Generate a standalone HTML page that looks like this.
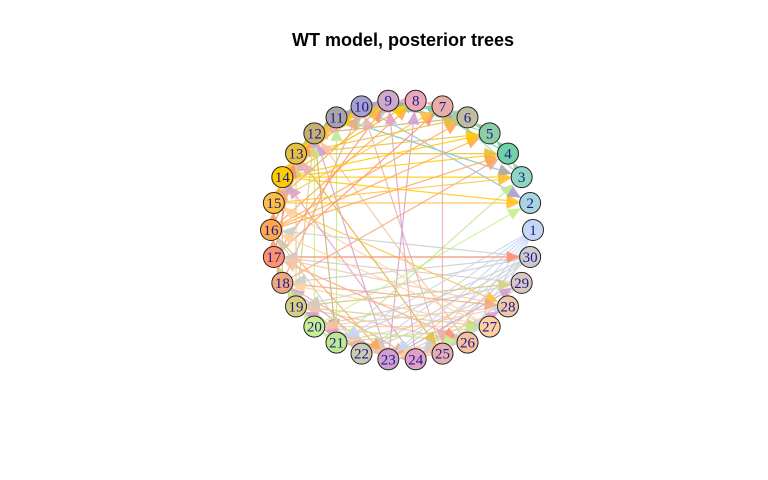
<!DOCTYPE html>
<html><head><meta charset="utf-8"><style>
body{margin:0;background:#fff;width:768px;height:480px;overflow:hidden}
svg{display:block}
</style></head><body>
<svg id="chart" width="768" height="480">
<text x="403" y="46" text-anchor="middle" font-family="Liberation Sans, sans-serif" font-weight="bold" font-size="18">WT model, posterior trees</text>
<g id="edges"></g>
<g id="arrows"></g>
<g id="nodes"></g>
</svg>
<script>
const nodeLabels=["1","2","3","4","5","6","7","8","9","10","11","12","13","14","15","16","17","18","19","20","21","22","23","24","25","26","27","28","29","30"];
const nodeColors=["#c6d7f5","#a8d5e0","#8fd6c2","#6fd1a6","#8ccfa6","#c0bca0","#e8aeaa","#eca8b8","#d0a8c8","#a8a0cc","#a8a4aa","#c8b070","#e8c040","#ffcc00","#ffc040","#ffa850","#ff9070","#f0a880","#d8d080","#c8f090","#c0e890","#cccbb0","#d0a0d0","#e0a0c8","#e8b0b0","#f8c0a0","#ffd0a0","#f0c8a8","#d8c8c0","#cccccc"];
const edgeFrom=[1,1,1,1,1,30,30,30,30,30,30,29,29,29,22,22,22,28,28,27,27,27,26,26,25,25,24,24,24,23,23,23,18,16,20,20,21,21,19,14,14,14,13,13,15,12,11,10,10,8,8,9,9,7,7,7,6,6,5,5,4,3,3,2,16,16,17,17,18,18,19,17,15,16,14,13,12,11,19,17,15,13,12,23,24,
 12,13,14,15,16,17,18,19,20,21,11,10,13,14,15,16,17,18,19,20,14,15,16,17,18,12,13,14,15,16,9,10,11,8,7,6,5,4,3,27,28,29,30,26,25,30,29,28,27,1,1,26,18,19,20,21,17,16,15,14,13,22,23,24,25,26,27,28];
const edgeTo=[24,25,26,27,22,16,17,18,19,22,23,17,20,22,19,18,16,21,23,20,18,15,19,12,13,10,14,9,20,12,18,8,24,23,12,2,11,3,12,2,4,3,4,5,2,6,3,2,6,14,12,15,13,11,25,10,10,9,7,9,8,7,11,10,8,5,7,9,10,4,13,13,9,12,11,10,9,8,27,26,28,25,21,29,28,
 13,12,13,14,15,16,17,18,19,20,12,11,11,12,13,14,15,16,17,18,10,11,12,13,14,10,9,8,7,6,10,9,10,9,8,7,6,5,4,21,20,19,21,22,23,24,25,24,23,23,21,20,28,29,26,27,30,4,3,5,6,18,19,20,21,17,16,17];
const cx=402,cy=230,rx=131,ry=130,nr=10.5;
const NS="http://www.w3.org/2000/svg";
function pos(i){const a=(i-1)*12*Math.PI/180;return [cx+rx*Math.cos(a),cy-ry*Math.sin(a)];}
const eg=document.getElementById('edges'),ag=document.getElementById('arrows'),ng=document.getElementById('nodes');
for(let k=0;k<edgeFrom.length;k++){
 const [x1,y1]=pos(edgeFrom[k]),[x2,y2]=pos(edgeTo[k]);
 const col=nodeColors[edgeFrom[k]-1];
 const dx=x2-x1,dy=y2-y1,L=Math.hypot(dx,dy),ux=dx/L,uy=dy/L;
 const tx=x2-ux*nr,ty=y2-uy*nr,bx=tx-ux*13,by=ty-uy*13;
 const l=document.createElementNS(NS,'line');
 l.setAttribute('x1',x1);l.setAttribute('y1',y1);l.setAttribute('x2',bx);l.setAttribute('y2',by);
 l.setAttribute('stroke',col);l.setAttribute('stroke-width','1.2');l.setAttribute('opacity','0.85');
 
 
 eg.appendChild(l);
 const p=document.createElementNS(NS,'polygon');
 p.setAttribute('points',`${tx},${ty} ${bx-uy*6},${by+ux*6} ${bx+uy*6},${by-ux*6}`);
 p.setAttribute('fill',col);p.setAttribute('opacity','0.9');
 
 
 ag.appendChild(p);
}
for(let i=1;i<=30;i++){
 const [x,y]=pos(i);
 const g=document.createElementNS(NS,'g');
 
 
 const c=document.createElementNS(NS,'circle');
 c.setAttribute('cx',x);c.setAttribute('cy',y);c.setAttribute('r',nr);
 c.setAttribute('fill',nodeColors[i-1]);c.setAttribute('stroke','#222');c.setAttribute('stroke-width','1');
 g.appendChild(c);
 const t=document.createElementNS(NS,'text');
 t.setAttribute('x',x);t.setAttribute('y',y+5);t.setAttribute('text-anchor','middle');
 t.setAttribute('font-family','Liberation Serif, serif');t.setAttribute('font-size','15');t.setAttribute('fill','#1a1a8c');
 t.textContent=nodeLabels[i-1];
 g.appendChild(t);
 ng.appendChild(g);
}
</script>
</body></html>
